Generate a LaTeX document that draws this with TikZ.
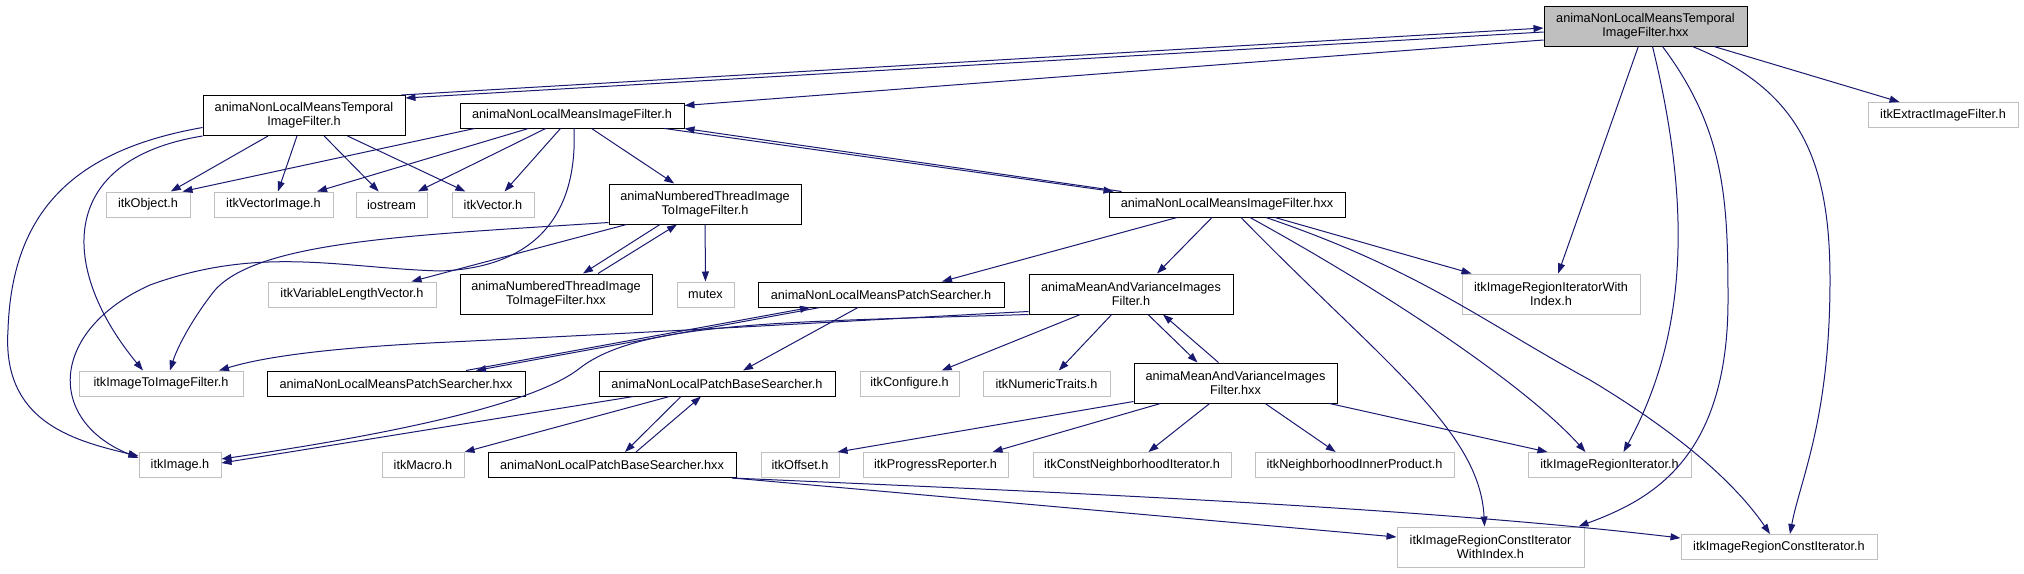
\documentclass[tikz,border=0pt]{standalone}
\usepackage{fontspec}
\setmainfont{Liberation Sans}
\usepackage{tikz}
\usetikzlibrary{arrows.meta}
\definecolor{dxEdge}{HTML}{191970}
\definecolor{dxGray}{HTML}{BFBFBF}
\newcommand{\dxfont}{\fontsize{12.7}{14.3}\selectfont}
\tikzset{
  incnode/.style={
    draw, rectangle, inner sep=0pt, minimum height=25pt, line width=1pt,
    font=\dxfont, align=center, fill=white
  },
  docfile/.style={incnode, draw=black},
  extfile/.style={incnode, draw=dxGray},
  mainfile/.style={incnode, draw=black, fill=dxGray},
  twoline/.style={minimum height=40pt},
  dep/.style={-{Triangle[length=10pt,width=7pt]}, line width=1pt, dxEdge}
}

\begin{document}
\begin{tikzpicture}[x=1pt,y=-1pt]
  \useasboundingbox (0,0) rectangle (2024,573);
  \node[mainfile, twoline, minimum width=203pt] (T) at (1645.5,26) {animaNonLocalMeansTemporal\\ImageFilter.hxx};
  \node[docfile, twoline, minimum width=202pt] (TH) at (304,115.5) {animaNonLocalMeansTemporal\\ImageFilter.h};
  \node[docfile, minimum width=224pt] (NH) at (572,115.5) {animaNonLocalMeansImageFilter.h};
  \node[extfile, minimum width=150pt] (extract) at (1943,115) {itkExtractImageFilter.h};
  \node[extfile, minimum width=84pt] (object) at (148,204.5) {itkObject.h};
  \node[extfile, minimum width=119pt] (vecimage) at (273.5,204.5) {itkVectorImage.h};
  \node[extfile, minimum width=71pt] (iostream) at (391.5,204.5) {iostream};
  \node[extfile, minimum width=82pt] (vector) at (493,204.5) {itkVector.h};
  \node[docfile, twoline, minimum width=192pt] (NTH) at (705,204) {animaNumberedThreadImage\\ToImageFilter.h};
  \node[docfile, minimum width=236pt] (NX) at (1227,204.5) {animaNonLocalMeansImageFilter.hxx};
  \node[extfile, minimum width=168pt] (varvec) at (352,294.5) {itkVariableLengthVector.h};
  \node[docfile, twoline, minimum width=192pt] (NTX) at (556,294) {animaNumberedThreadImage\\ToImageFilter.hxx};
  \node[extfile, minimum width=57pt] (mutex) at (705.5,294.5) {mutex};
  \node[docfile, minimum width=246pt] (PS) at (881,294.5) {animaNonLocalMeansPatchSearcher.h};
  \node[docfile, twoline, minimum width=204pt] (MH) at (1131,294) {animaMeanAndVarianceImages\\Filter.h};
  \node[extfile, twoline, minimum width=178pt] (iriwi) at (1551,294) {itkImageRegionIteratorWith\\Index.h};
  \node[extfile, minimum width=164pt] (imgtoimg) at (161,383.5) {itkImageToImageFilter.h};
  \node[docfile, minimum width=258pt] (PSX) at (396,383.5) {animaNonLocalMeansPatchSearcher.hxx};
  \node[docfile, minimum width=236pt] (BH) at (717,383.5) {animaNonLocalPatchBaseSearcher.h};
  \node[extfile, minimum width=99pt] (configure) at (909.5,383.5) {itkConfigure.h};
  \node[extfile, minimum width=127pt] (numtraits) at (1046.5,383.5) {itkNumericTraits.h};
  \node[docfile, twoline, minimum width=203pt] (MX) at (1235.5,383) {animaMeanAndVarianceImages\\Filter.hxx};
  \node[extfile, minimum width=82pt] (image) at (180,465) {itkImage.h};
  \node[extfile, minimum width=82pt] (macro) at (423,465) {itkMacro.h};
  \node[docfile, minimum width=248pt] (BX) at (612,465) {animaNonLocalPatchBaseSearcher.hxx};
  \node[extfile, minimum width=78pt] (offset) at (800,465) {itkOffset.h};
  \node[extfile, minimum width=145pt] (progress) at (935.5,465) {itkProgressReporter.h};
  \node[extfile, minimum width=198pt] (cni) at (1132,465) {itkConstNeighborhoodIterator.h};
  \node[extfile, minimum width=199pt] (nip) at (1354.5,465) {itkNeighborhoodInnerProduct.h};
  \node[extfile, minimum width=163pt] (iri) at (1609.5,465) {itkImageRegionIterator.h};
  \node[extfile, twoline, minimum width=187pt] (ircwi) at (1490.5,547) {itkImageRegionConstIterator\\WithIndex.h};
  \node[extfile, minimum width=196pt] (irci) at (1779,547) {itkImageRegionConstIterator.h};

  \draw[dep] ([shift={(0,6)}]T.west) -- ([shift={(0,3)}]TH.north east);
  \draw[dep] ([shift={(-4,0)}]TH.north east) -- ([shift={(0,2)}]T.west);
  \draw[dep] ([shift={(0,14)}]T.west) -- ([shift={(0,-10)}]NH.east);
  \draw[dep] (T) -- (extract); \draw[dep] (T) -- (iriwi);
  \draw[dep] ([shift={(7,0)}]T.south) .. controls (1690,200) and (1690,330) .. ([shift={(14,0)}]iri.north);
  \draw[dep] ([shift={(17,0)}]T.south) .. controls (1725,130) and (1728,200) .. (1728,300) .. controls (1728,460) and (1650,500) .. ([shift={(-6,0)}]ircwi.north east);
  \draw[dep] ([shift={(47,0)}]T.south) .. controls (1800,90) and (1830,160) .. (1830,280) .. controls (1830,420) and (1800,480) .. ([shift={(11,0)}]irci.north);

  \draw[dep] (TH) -- (object); \draw[dep] (TH) -- (vecimage); \draw[dep] (TH) -- (iostream); \draw[dep] (TH) -- (vector);
  \draw[dep] ([shift={(0,12)}]TH.west) .. controls (75,150) and (12,210) .. (8,330) .. controls (2,420) and (70,440) .. ([shift={(0,-9)}]image.west);
  \draw[dep] (TH.south west) .. controls (55,160) and (60,270) .. ([shift={(-18,0)}]imgtoimg.north);

  \draw[dep] ([shift={(15,0)}]NH.south west) -- ([shift={(-8,0)}]object.north east);
  \draw[dep] (NH) -- (vecimage); \draw[dep] (NH) -- (iostream); \draw[dep] (NH) -- (vector); \draw[dep] (NH) -- (NTH);
  \draw[dep] ([shift={(2,0)}]NH.south) .. controls (578,220) and (530,268) .. (440,271) .. controls (340,268) and (260,245) .. (150,285) .. controls (50,330) and (45,420) .. ([shift={(0,-7)}]image.west);
  \draw[dep] ([shift={(-20,0)}]NH.south east) -- ([shift={(5,0)}]NX.north west);
  \draw[dep] ([shift={(13,0)}]NX.north west) -- (NH.south east);

  \draw[dep] (NTH) -- (mutex);
  \draw[dep] ([shift={(-45,0)}]NTH.south) -- ([shift={(27,0)}]NTX.north);
  \draw[dep] ([shift={(42,0)}]NTX.north) -- ([shift={(-28,0)}]NTH.south);
  \draw[dep] ([shift={(18,0)}]NTH.south west) -- ([shift={(-25,0)}]varvec.north east);
  \draw[dep] ([shift={(0,-2)}]NTH.south west) .. controls (420,235) and (260,240) .. (215,290) .. controls (195,315) and (178,345) .. ([shift={(9,0)}]imgtoimg.north);

  \draw[dep] ([shift={(-50,0)}]NX.south) -- ([shift={(61,0)}]PS.north);
  \draw[dep] ([shift={(-15,0)}]NX.south) -- ([shift={(26,0)}]MH.north);
  \draw[dep] ([shift={(14,0)}]NX.south) .. controls (1380,360) and (1480,430) .. ([shift={(-6,0)}]ircwi.north);
  \draw[dep] ([shift={(23,0)}]NX.south) .. controls (1400,300) and (1530,390) .. ([shift={(-24,0)}]iri.north);
  \draw[dep] ([shift={(39,0)}]NX.south) .. controls (1420,270) and (1480,320) .. (1590,380) .. controls (1690,440) and (1740,490) .. ([shift={(-9,0)}]irci.north);
  \draw[dep] ([shift={(48,0)}]NX.south) -- ([shift={(10,0)}]iriwi.north west);

  \draw[dep] ([shift={(-61,0)}]PS.south) -- ([shift={(80,0)}]PSX.north);
  \draw[dep] ([shift={(70,0)}]PSX.north) -- ([shift={(-71,0)}]PS.south);
  \draw[dep] ([shift={(-23,0)}]PS.south) -- ([shift={(26,0)}]BH.north);

  \draw[dep] (MH) -- (configure); \draw[dep] (MH) -- (numtraits);
  \draw[dep] ([shift={(17,0)}]MH.south) -- ([shift={(-38,0)}]MX.north);
  \draw[dep] ([shift={(-17,0)}]MX.north) -- ([shift={(32,0)}]MH.south);
  \draw[dep] ([shift={(0,-3)}]MH.south west) .. controls (900,318) and (700,330) .. (450,342) .. controls (320,348) and (260,358) .. ([shift={(58,0)}]imgtoimg.north);
  \draw[dep] (MH.south west) .. controls (780,322) and (640,322) .. (580,368) .. controls (540,400) and (420,430) .. ([shift={(0,-6)}]image.east);

  \draw[dep] ([shift={(0,-2)}]MX.south west) -- ([shift={(-2,0)}]offset.north east);
  \draw[dep] ([shift={(-75,0)}]MX.south) -- ([shift={(57,0)}]progress.north);
  \draw[dep] (MX) -- (cni); \draw[dep] (MX) -- (nip);
  \draw[dep] ([shift={(-8,0)}]MX.south east) -- ([shift={(-62,0)}]iri.north);

  \draw[dep] ([shift={(35,0)}]BH.south west) -- ([shift={(0,-2)}]image.east);
  \draw[dep] ([shift={(71,0)}]BH.south west) -- (macro.north east);
  \draw[dep] ([shift={(-36,0)}]BH.south) -- ([shift={(13,0)}]BX.north);
  \draw[dep] ([shift={(24,0)}]BX.north) -- ([shift={(-16,0)}]BH.south);

  \draw[dep] ([shift={(-4,0)}]BX.south east) .. controls (1000,490) and (1400,505) .. ([shift={(0,-9)}]irci.west);
  \draw[dep] ([shift={(-4,0)}]BX.south east) -- ([shift={(0,-10)}]ircwi.west);
\end{tikzpicture}
\end{document}
